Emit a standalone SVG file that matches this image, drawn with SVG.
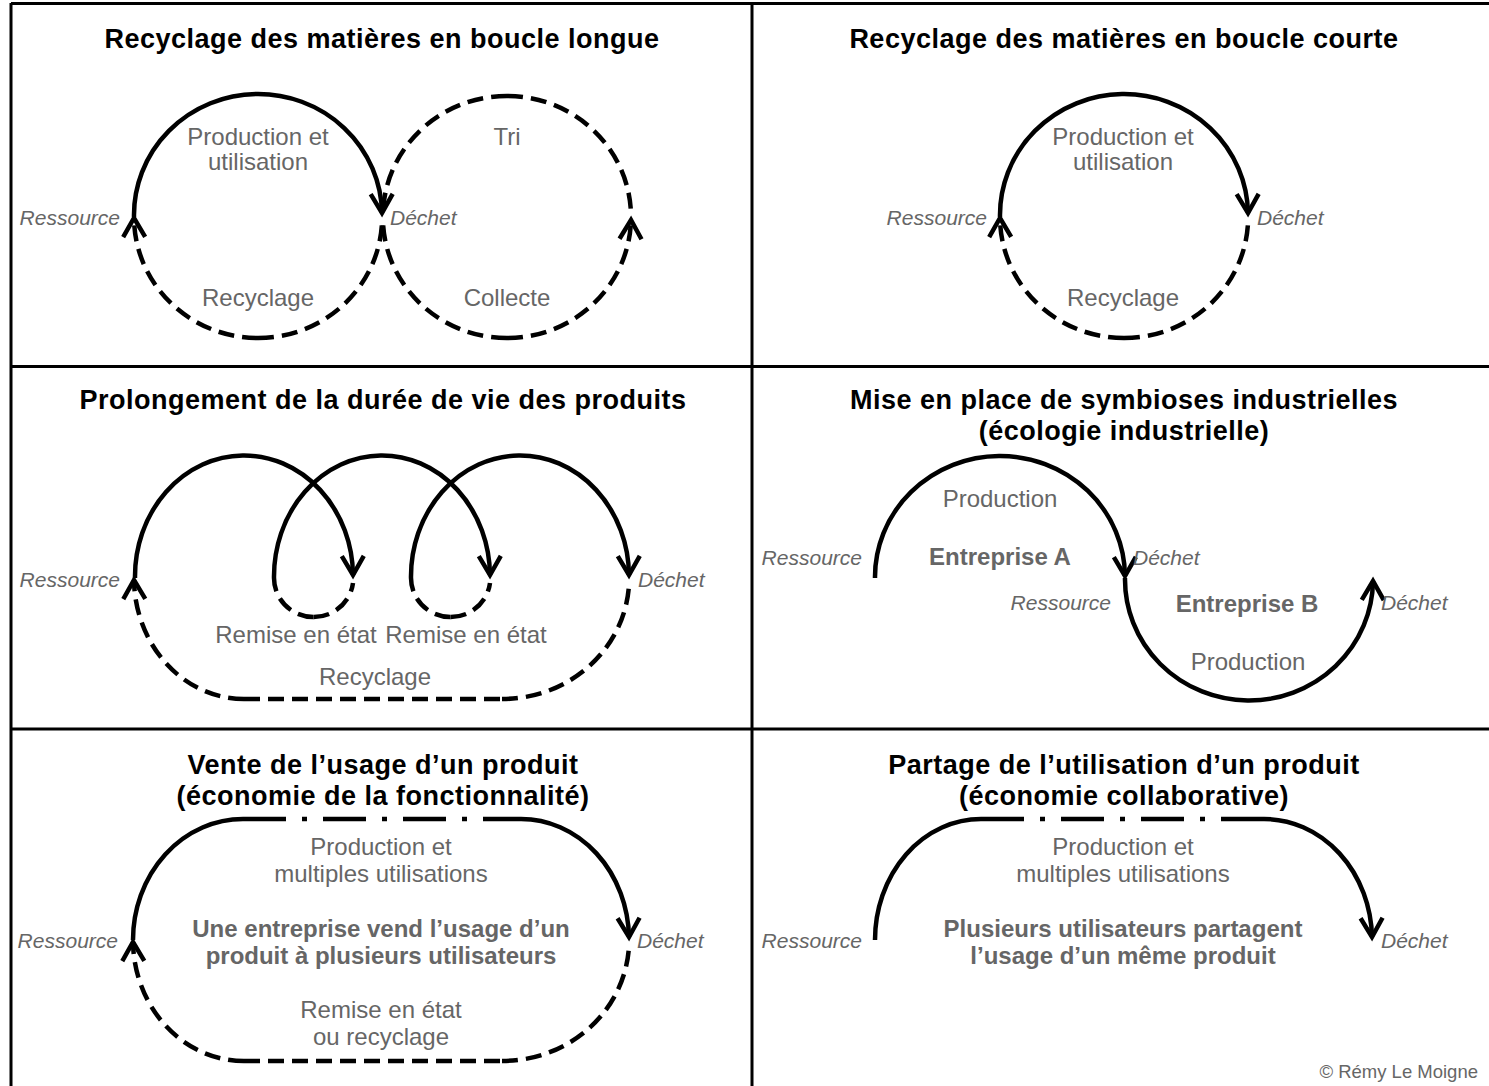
<svg xmlns="http://www.w3.org/2000/svg" width="1489" height="1086" viewBox="0 0 1489 1086">
<style>
.bg{fill:#fff}
.frame{stroke:#000;stroke-width:3;fill:none}
.title{font-family:"Liberation Sans",Arial,sans-serif;font-weight:bold;font-size:27px;letter-spacing:0.5px;fill:#000;text-anchor:middle}
.lbl{font-family:"Liberation Sans",Arial,sans-serif;font-size:24px;fill:#666;text-anchor:middle}
.blbl{font-family:"Liberation Sans",Arial,sans-serif;font-size:24px;font-weight:bold;fill:#666;text-anchor:middle}
.it{font-family:"Liberation Sans",Arial,sans-serif;font-style:italic;font-size:21px;fill:#666}
.end{text-anchor:end}
.solid{fill:none;stroke:#000;stroke-width:4.5}
.dash{fill:none;stroke:#000;stroke-width:4.5;stroke-dasharray:16 8}
.dd{fill:none;stroke:#000;stroke-width:4.5;stroke-dasharray:43 16 5 16}
.copy{font-family:"Liberation Sans",Arial,sans-serif;font-size:18.5px;fill:#666;text-anchor:end}
</style>
<defs>
<marker id="ah" markerUnits="userSpaceOnUse" markerWidth="30" markerHeight="30" refX="0" refY="0" orient="auto" style="overflow:visible">
<path d="M-19,-11 L0,0 L-19,11" fill="none" stroke="#000" stroke-width="4.5" stroke-linejoin="miter" stroke-linecap="butt"/>
</marker>
</defs>
<rect class="bg" x="0" y="0" width="1489" height="1086"/>
<g id="frame">
<line class="frame" x1="11" y1="3.5" x2="1489" y2="3.5"/>
<line class="frame" x1="11" y1="3" x2="11" y2="1086"/>
<line class="frame" x1="752" y1="3" x2="752" y2="1086"/>
<line class="frame" x1="11" y1="366.5" x2="1489" y2="366.5"/>
<line class="frame" x1="11" y1="729" x2="1489" y2="729"/>
</g>
<g id="connectors">
<!-- panel 1 -->
<path class="solid" d="M134,217 A124,121 0 0 1 382,213" marker-end="url(#ah)"/>
<path class="dash" d="M258,338 A124,121 0 0 1 134,218" marker-end="url(#ah)"/>
<path class="dash" d="M258,338 A124,121 0 0 0 382,223"/>
<path class="dash" d="M507,338 A124,121 0 0 0 631,220" marker-end="url(#ah)"/>
<path class="dash" d="M507,338 A124,121 0 0 1 383,223"/>
<path class="dash" d="M507,96 A124,121 0 0 0 383,212"/>
<path class="dash" d="M507,96 A124,121 0 0 1 631,214"/>
<!-- panel 2 -->
<path class="solid" d="M1000,217 A124,121 0 0 1 1248,213" marker-end="url(#ah)"/>
<path class="dash" d="M1124,338 A124,121 0 0 1 1000,218" marker-end="url(#ah)"/>
<path class="dash" d="M1124,338 A124,121 0 0 0 1248,223"/>
<!-- panel 3 -->
<path class="solid" d="M135,578 A109,121 0 0 1 353,575" marker-end="url(#ah)"/>
<path class="solid" d="M274,578 A108,121 0 0 1 490,575" marker-end="url(#ah)"/>
<path class="solid" d="M411,578 A109,121 0 0 1 629,575" marker-end="url(#ah)"/>
<path class="dash" d="M313.5,617 A39.5,39 0 0 1 274,578"/>
<path class="dash" d="M313.5,617 A39.5,39 0 0 0 353,583"/>
<path class="dash" d="M450.5,617 A39.5,39 0 0 1 411,578"/>
<path class="dash" d="M450.5,617 A39.5,39 0 0 0 490,583"/>
<path class="dash" d="M244,699 L502,699"/>
<path class="dash" d="M244,699 A110,121 0 0 1 134,580" marker-end="url(#ah)"/>
<path class="dash" d="M502,699 A127,121 0 0 0 629,585"/>
<!-- panel 4 -->
<path class="solid" d="M875,578 A125,121 0 0 1 1125,576" marker-end="url(#ah)"/>
<path class="solid" d="M1125,578 A124,121 0 0 0 1373,581" marker-end="url(#ah)"/>
<!-- panel 5 -->
<path class="solid" d="M133,940 A110,121 0 0 1 243,819"/>
<path class="dd" d="M243,819 L521,819"/>
<path class="solid" d="M521,819 A108,121 0 0 1 629,937" marker-end="url(#ah)"/>
<path class="dash" d="M244,1061 L502,1061"/>
<path class="dash" d="M244,1061 A111,121 0 0 1 133,942" marker-end="url(#ah)"/>
<path class="dash" d="M502,1061 A127,121 0 0 0 629,946"/>
<!-- panel 6 -->
<path class="solid" d="M875,940 A106,121 0 0 1 981,819"/>
<path class="dd" d="M981,819 L1264,819"/>
<path class="solid" d="M1264,819 A108,121 0 0 1 1372,937" marker-end="url(#ah)"/>
</g>
<g id="panel-boucle-longue">
<text class="title" x="382" y="48">Recyclage des matières en boucle longue</text>
<text class="lbl" x="258" y="145">Production et</text>
<text class="lbl" x="258" y="170">utilisation</text>
<text class="lbl" x="507" y="145">Tri</text>
<text class="lbl" x="258" y="306">Recyclage</text>
<text class="lbl" x="507" y="306">Collecte</text>
<text class="it end" x="120" y="225">Ressource</text>
<text class="it" x="390" y="225">Déchet</text>
</g>
<g id="panel-boucle-courte">
<text class="title" x="1124" y="48">Recyclage des matières en boucle courte</text>
<text class="lbl" x="1123" y="145">Production et</text>
<text class="lbl" x="1123" y="170">utilisation</text>
<text class="lbl" x="1123" y="306">Recyclage</text>
<text class="it end" x="987" y="225">Ressource</text>
<text class="it" x="1257" y="225">Déchet</text>
</g>
<g id="panel-prolongement">
<text class="title" x="383" y="409">Prolongement de la durée de vie des produits</text>
<text class="it end" x="120" y="587">Ressource</text>
<text class="it" x="638" y="587">Déchet</text>
<text class="lbl" x="296" y="643">Remise en état</text>
<text class="lbl" x="466" y="643">Remise en état</text>
<text class="lbl" x="375" y="685">Recyclage</text>
</g>
<g id="panel-symbioses">
<text class="title" x="1124" y="409">Mise en place de symbioses industrielles</text>
<text class="title" x="1124" y="440">(écologie industrielle)</text>
<text class="lbl" x="1000" y="507">Production</text>
<text class="blbl" x="1000" y="565">Entreprise A</text>
<text class="it end" x="862" y="565">Ressource</text>
<text class="it" x="1133" y="565">Déchet</text>
<text class="it end" x="1111" y="610">Ressource</text>
<text class="blbl" x="1247" y="612">Entreprise B</text>
<text class="it" x="1381" y="610">Déchet</text>
<text class="lbl" x="1248" y="670">Production</text>
</g>
<g id="panel-fonctionnalite">
<text class="title" x="383" y="774">Vente de l’usage d’un produit</text>
<text class="title" x="383" y="805">(économie de la fonctionnalité)</text>
<text class="lbl" x="381" y="855">Production et</text>
<text class="lbl" x="381" y="882">multiples utilisations</text>
<text class="blbl" x="381" y="937">Une entreprise vend l’usage d’un</text>
<text class="blbl" x="381" y="964">produit à plusieurs utilisateurs</text>
<text class="lbl" x="381" y="1018">Remise en état</text>
<text class="lbl" x="381" y="1045">ou recyclage</text>
<text class="it end" x="118" y="948">Ressource</text>
<text class="it" x="637" y="948">Déchet</text>
</g>
<g id="panel-collaborative">
<text class="title" x="1124" y="774">Partage de l’utilisation d’un produit</text>
<text class="title" x="1124" y="805">(économie collaborative)</text>
<text class="lbl" x="1123" y="855">Production et</text>
<text class="lbl" x="1123" y="882">multiples utilisations</text>
<text class="blbl" x="1123" y="937">Plusieurs utilisateurs partagent</text>
<text class="blbl" x="1123" y="964">l’usage d’un même produit</text>
<text class="it end" x="862" y="948">Ressource</text>
<text class="it" x="1381" y="948">Déchet</text>
<text class="copy" x="1478" y="1078">© Rémy Le Moigne</text>
</g>
</svg>
